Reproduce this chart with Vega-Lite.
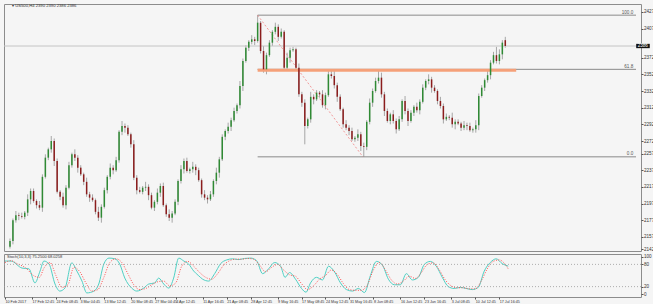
{
"$schema":"https://vega.github.io/schema/vega-lite/v6.json",
"background":"#f5f5f5",
"padding":{"left":2,"top":3,"right":0,"bottom":0},
"spacing":3,
"bounds":"flush",
"config":{"font":"Liberation Sans","view":{"stroke":"#8c8c8c","strokeWidth":1},"axis":{"labelFont":"Liberation Sans","labelFontSize":4.6,"labelColor":"#333","tickColor":"#555","tickSize":2,"labelPadding":0.5,"grid":false,"domain":false,"labelOverlap":false,"labelBound":false,"labelFlush":false}},
"datasets":{
"candles":[
{"i":0,"o":2145,"h":2155,"l":2143,"c":2152},{"i":1,"o":2152,"h":2179,"l":2148,"c":2177},{"i":2,"o":2177,"h":2188,"l":2174,"c":2183},{"i":3,"o":2183,"h":2186,"l":2177,"c":2182},{"i":4,"o":2182,"h":2186,"l":2179,"c":2181},{"i":5,"o":2181,"h":2188,"l":2178,"c":2186},{"i":6,"o":2186,"h":2208,"l":2182,"c":2202},{"i":7,"o":2202,"h":2215,"l":2196,"c":2212},{"i":8,"o":2212,"h":2215,"l":2198,"c":2200},{"i":9,"o":2200,"h":2202,"l":2191,"c":2195},
{"i":10,"o":2195,"h":2200,"l":2189,"c":2192},{"i":11,"o":2192,"h":2232,"l":2187,"c":2229},{"i":12,"o":2229,"h":2256,"l":2227,"c":2252},{"i":13,"o":2252,"h":2264,"l":2249,"c":2262},{"i":14,"o":2262,"h":2278,"l":2258,"c":2272},{"i":15,"o":2272,"h":2275,"l":2242,"c":2248},{"i":16,"o":2248,"h":2251,"l":2209,"c":2211},{"i":17,"o":2211,"h":2213,"l":2201,"c":2205},{"i":18,"o":2205,"h":2210,"l":2192,"c":2195},{"i":19,"o":2195,"h":2219,"l":2190,"c":2216},
{"i":20,"o":2216,"h":2247,"l":2214,"c":2243},{"i":21,"o":2243,"h":2258,"l":2240,"c":2256},{"i":22,"o":2256,"h":2262,"l":2248,"c":2252},{"i":23,"o":2252,"h":2255,"l":2234,"c":2240},{"i":24,"o":2240,"h":2243,"l":2230,"c":2232},{"i":25,"o":2232,"h":2234,"l":2219,"c":2223},{"i":26,"o":2223,"h":2228,"l":2205,"c":2208},{"i":27,"o":2208,"h":2211,"l":2199,"c":2204},{"i":28,"o":2204,"h":2208,"l":2199,"c":2201},{"i":29,"o":2201,"h":2203,"l":2184,"c":2187},
{"i":30,"o":2187,"h":2193,"l":2176,"c":2180},{"i":31,"o":2180,"h":2196,"l":2174,"c":2193},{"i":32,"o":2193,"h":2216,"l":2191,"c":2213},{"i":33,"o":2213,"h":2231,"l":2209,"c":2229},{"i":34,"o":2229,"h":2245,"l":2226,"c":2240},{"i":35,"o":2240,"h":2243,"l":2232,"c":2237},{"i":36,"o":2237,"h":2253,"l":2235,"c":2249},{"i":37,"o":2249,"h":2285,"l":2246,"c":2283},{"i":38,"o":2283,"h":2296,"l":2279,"c":2290},{"i":39,"o":2290,"h":2293,"l":2282,"c":2288},
{"i":40,"o":2288,"h":2291,"l":2278,"c":2280},{"i":41,"o":2280,"h":2282,"l":2264,"c":2268},{"i":42,"o":2268,"h":2273,"l":2225,"c":2228},{"i":43,"o":2228,"h":2231,"l":2208,"c":2213},{"i":44,"o":2213,"h":2217,"l":2209,"c":2211},{"i":45,"o":2211,"h":2218,"l":2208,"c":2216},{"i":46,"o":2216,"h":2223,"l":2212,"c":2217},{"i":47,"o":2217,"h":2220,"l":2201,"c":2207},{"i":48,"o":2207,"h":2210,"l":2190,"c":2192},{"i":49,"o":2192,"h":2201,"l":2188,"c":2199},
{"i":50,"o":2199,"h":2215,"l":2196,"c":2210},{"i":51,"o":2210,"h":2221,"l":2205,"c":2218},{"i":52,"o":2218,"h":2222,"l":2193,"c":2195},{"i":53,"o":2195,"h":2197,"l":2181,"c":2184},{"i":54,"o":2184,"h":2190,"l":2176,"c":2180},{"i":55,"o":2180,"h":2188,"l":2174,"c":2185},{"i":56,"o":2185,"h":2202,"l":2183,"c":2199},{"i":57,"o":2199,"h":2226,"l":2195,"c":2224},{"i":58,"o":2224,"h":2243,"l":2221,"c":2238},{"i":59,"o":2238,"h":2251,"l":2233,"c":2248},
{"i":60,"o":2248,"h":2252,"l":2234,"c":2236},{"i":61,"o":2236,"h":2240,"l":2233,"c":2238},{"i":62,"o":2238,"h":2247,"l":2234,"c":2241},{"i":63,"o":2241,"h":2244,"l":2231,"c":2237},{"i":64,"o":2237,"h":2240,"l":2223,"c":2225},{"i":65,"o":2225,"h":2227,"l":2204,"c":2208},{"i":66,"o":2208,"h":2213,"l":2201,"c":2204},{"i":67,"o":2204,"h":2207,"l":2197,"c":2202},{"i":68,"o":2202,"h":2212,"l":2200,"c":2208},{"i":69,"o":2208,"h":2226,"l":2205,"c":2224},
{"i":70,"o":2224,"h":2240,"l":2220,"c":2234},{"i":71,"o":2234,"h":2253,"l":2228,"c":2250},{"i":72,"o":2250,"h":2280,"l":2248,"c":2277},{"i":73,"o":2277,"h":2286,"l":2273,"c":2284},{"i":74,"o":2284,"h":2294,"l":2281,"c":2289},{"i":75,"o":2289,"h":2300,"l":2284,"c":2297},{"i":76,"o":2297,"h":2312,"l":2295,"c":2308},{"i":77,"o":2308,"h":2317,"l":2305,"c":2315},{"i":78,"o":2315,"h":2344,"l":2311,"c":2338},{"i":79,"o":2338,"h":2371,"l":2332,"c":2368},
{"i":80,"o":2368,"h":2387,"l":2366,"c":2384},{"i":81,"o":2384,"h":2393,"l":2380,"c":2391},{"i":82,"o":2391,"h":2399,"l":2388,"c":2394},{"i":83,"o":2394,"h":2397,"l":2387,"c":2392},{"i":84,"o":2392,"h":2423,"l":2390,"c":2414},{"i":85,"o":2414,"h":2416,"l":2377,"c":2380},{"i":86,"o":2380,"h":2386,"l":2354,"c":2358},{"i":87,"o":2358,"h":2378,"l":2352,"c":2375},{"i":88,"o":2375,"h":2393,"l":2373,"c":2390},{"i":89,"o":2390,"h":2405,"l":2386,"c":2403},
{"i":90,"o":2403,"h":2414,"l":2400,"c":2409},{"i":91,"o":2409,"h":2412,"l":2392,"c":2397},{"i":92,"o":2397,"h":2407,"l":2395,"c":2403},{"i":93,"o":2403,"h":2405,"l":2357,"c":2360},{"i":94,"o":2360,"h":2378,"l":2356,"c":2372},{"i":95,"o":2372,"h":2384,"l":2366,"c":2381},{"i":96,"o":2381,"h":2385,"l":2379,"c":2382},{"i":97,"o":2382,"h":2384,"l":2356,"c":2360},{"i":98,"o":2360,"h":2365,"l":2325,"c":2328},{"i":99,"o":2328,"h":2331,"l":2313,"c":2318},
{"i":100,"o":2318,"h":2322,"l":2268,"c":2290},{"i":101,"o":2290,"h":2300,"l":2287,"c":2298},{"i":102,"o":2298,"h":2331,"l":2294,"c":2325},{"i":103,"o":2325,"h":2328,"l":2316,"c":2322},{"i":104,"o":2322,"h":2333,"l":2320,"c":2330},{"i":105,"o":2330,"h":2332,"l":2324,"c":2328},{"i":106,"o":2328,"h":2333,"l":2312,"c":2315},{"i":107,"o":2315,"h":2330,"l":2310,"c":2327},{"i":108,"o":2327,"h":2356,"l":2325,"c":2352},{"i":109,"o":2352,"h":2358,"l":2347,"c":2350},
{"i":110,"o":2350,"h":2356,"l":2335,"c":2339},{"i":111,"o":2339,"h":2342,"l":2319,"c":2325},{"i":112,"o":2325,"h":2328,"l":2308,"c":2310},{"i":113,"o":2310,"h":2312,"l":2288,"c":2292},{"i":114,"o":2292,"h":2297,"l":2285,"c":2288},{"i":115,"o":2288,"h":2291,"l":2279,"c":2284},{"i":116,"o":2284,"h":2288,"l":2272,"c":2274},{"i":117,"o":2274,"h":2278,"l":2271,"c":2276},{"i":118,"o":2276,"h":2286,"l":2272,"c":2280},{"i":119,"o":2280,"h":2283,"l":2260,"c":2266},
{"i":120,"o":2266,"h":2270,"l":2253,"c":2265},{"i":121,"o":2265,"h":2297,"l":2261,"c":2295},{"i":122,"o":2295,"h":2323,"l":2292,"c":2318},{"i":123,"o":2318,"h":2335,"l":2313,"c":2332},{"i":124,"o":2332,"h":2348,"l":2330,"c":2344},{"i":125,"o":2344,"h":2356,"l":2341,"c":2348},{"i":126,"o":2348,"h":2354,"l":2324,"c":2328},{"i":127,"o":2328,"h":2331,"l":2302,"c":2308},{"i":128,"o":2308,"h":2311,"l":2294,"c":2296},{"i":129,"o":2296,"h":2306,"l":2292,"c":2304},
{"i":130,"o":2304,"h":2309,"l":2293,"c":2296},{"i":131,"o":2296,"h":2299,"l":2281,"c":2286},{"i":132,"o":2286,"h":2302,"l":2284,"c":2298},{"i":133,"o":2298,"h":2322,"l":2295,"c":2320},{"i":134,"o":2320,"h":2326,"l":2304,"c":2308},{"i":135,"o":2308,"h":2311,"l":2290,"c":2296},{"i":136,"o":2296,"h":2309,"l":2294,"c":2306},{"i":137,"o":2306,"h":2315,"l":2302,"c":2313},{"i":138,"o":2313,"h":2318,"l":2306,"c":2309},{"i":139,"o":2309,"h":2322,"l":2304,"c":2319},
{"i":140,"o":2319,"h":2340,"l":2317,"c":2336},{"i":141,"o":2336,"h":2346,"l":2333,"c":2344},{"i":142,"o":2344,"h":2352,"l":2340,"c":2346},{"i":143,"o":2346,"h":2349,"l":2330,"c":2336},{"i":144,"o":2336,"h":2339,"l":2330,"c":2332},{"i":145,"o":2332,"h":2334,"l":2316,"c":2320},{"i":146,"o":2320,"h":2325,"l":2311,"c":2314},{"i":147,"o":2314,"h":2317,"l":2293,"c":2298},{"i":148,"o":2298,"h":2305,"l":2296,"c":2301},{"i":149,"o":2301,"h":2303,"l":2297,"c":2300},
{"i":150,"o":2300,"h":2306,"l":2288,"c":2292},{"i":151,"o":2292,"h":2298,"l":2286,"c":2295},{"i":152,"o":2295,"h":2298,"l":2291,"c":2293},{"i":153,"o":2293,"h":2295,"l":2284,"c":2288},{"i":154,"o":2288,"h":2296,"l":2285,"c":2291},{"i":155,"o":2291,"h":2294,"l":2285,"c":2290},{"i":156,"o":2290,"h":2294,"l":2283,"c":2285},{"i":157,"o":2285,"h":2288,"l":2282,"c":2286},{"i":158,"o":2286,"h":2297,"l":2282,"c":2291},{"i":159,"o":2291,"h":2329,"l":2285,"c":2326},
{"i":160,"o":2326,"h":2339,"l":2324,"c":2336},{"i":161,"o":2336,"h":2347,"l":2332,"c":2345},{"i":162,"o":2345,"h":2356,"l":2342,"c":2351},{"i":163,"o":2351,"h":2369,"l":2346,"c":2366},{"i":164,"o":2366,"h":2379,"l":2364,"c":2375},{"i":165,"o":2375,"h":2385,"l":2365,"c":2368},{"i":166,"o":2368,"h":2382,"l":2364,"c":2376},{"i":167,"o":2376,"h":2393,"l":2370,"c":2390},{"i":168,"o":2393,"h":2397,"l":2384,"c":2386}
],
"fib":[{"from":84,"to":212.333,"p":2423,"lab":"100.0"},{"from":84,"to":212.333,"p":2358,"lab":"61.8"},{"from":84,"to":212.333,"p":2253,"lab":"0.0"}],
"zone":[{"from":84,"to":171.7,"p":2357}],
"trend":[{"from":84,"to":119.7,"p1":2423,"p2":2253}],
"head":[{"i":0.7,"p":2434,"t":"▾ US500,H4  2390 2390 2386 2386"}],
"stoch":[
{"i":0,"v":89,"s":"main"},{"i":2,"v":89,"s":"main"},{"i":5.7,"v":70,"s":"main"},{"i":8,"v":68,"s":"main"},{"i":10,"v":30,"s":"main"},{"i":11.7,"v":62,"s":"main"},{"i":13,"v":89,"s":"main"},{"i":14.7,"v":81,"s":"main"},{"i":16.7,"v":27,"s":"main"},{"i":18.3,"v":8,"s":"main"},{"i":20,"v":16,"s":"main"},{"i":22.3,"v":84,"s":"main"},{"i":24,"v":62,"s":"main"},{"i":25.7,"v":35,"s":"main"},{"i":27.3,"v":3,"s":"main"},{"i":29.7,"v":8,"s":"main"},{"i":31.3,"v":27,"s":"main"},{"i":33,"v":81,"s":"main"},{"i":34.7,"v":97,"s":"main"},{"i":36.7,"v":95,"s":"main"},{"i":38.3,"v":81,"s":"main"},{"i":40,"v":43,"s":"main"},{"i":42.3,"v":16,"s":"main"},{"i":44,"v":8,"s":"main"},{"i":46.3,"v":16,"s":"main"},{"i":48,"v":27,"s":"main"},{"i":50,"v":30,"s":"main"},{"i":51.3,"v":43,"s":"main"},{"i":53,"v":27,"s":"main"},{"i":54.7,"v":16,"s":"main"},{"i":56.3,"v":43,"s":"main"},{"i":58,"v":97,"s":"main"},{"i":59.7,"v":89,"s":"main"},{"i":61.3,"v":81,"s":"main"},{"i":63,"v":62,"s":"main"},{"i":64.7,"v":49,"s":"main"},{"i":66,"v":40,"s":"main"},{"i":68,"v":35,"s":"main"},{"i":70,"v":55,"s":"main"},{"i":72,"v":82,"s":"main"},{"i":74,"v":92,"s":"main"},{"i":76,"v":95,"s":"main"},{"i":78,"v":93,"s":"main"},{"i":80,"v":96,"s":"main"},{"i":82,"v":97,"s":"main"},{"i":84,"v":90,"s":"main"},{"i":86,"v":55,"s":"main"},{"i":88,"v":68,"s":"main"},{"i":90,"v":85,"s":"main"},{"i":92,"v":75,"s":"main"},{"i":93.5,"v":45,"s":"main"},{"i":95,"v":58,"s":"main"},{"i":97,"v":40,"s":"main"},{"i":99,"v":15,"s":"main"},{"i":100.5,"v":5,"s":"main"},{"i":102,"v":30,"s":"main"},{"i":104,"v":45,"s":"main"},{"i":106,"v":38,"s":"main"},{"i":108,"v":75,"s":"main"},{"i":110,"v":60,"s":"main"},{"i":112,"v":30,"s":"main"},{"i":114,"v":12,"s":"main"},{"i":116,"v":8,"s":"main"},{"i":118,"v":15,"s":"main"},{"i":120,"v":4,"s":"main"},{"i":122,"v":50,"s":"main"},{"i":124,"v":88,"s":"main"},{"i":126,"v":78,"s":"main"},{"i":128,"v":40,"s":"main"},{"i":130,"v":25,"s":"main"},{"i":132,"v":25,"s":"main"},{"i":134,"v":55,"s":"main"},{"i":136,"v":38,"s":"main"},{"i":138,"v":45,"s":"main"},{"i":140,"v":80,"s":"main"},{"i":142,"v":88,"s":"main"},{"i":144,"v":75,"s":"main"},{"i":146,"v":45,"s":"main"},{"i":148,"v":20,"s":"main"},{"i":150,"v":15,"s":"main"},{"i":152,"v":18,"s":"main"},{"i":154,"v":15,"s":"main"},{"i":156,"v":12,"s":"main"},{"i":158,"v":18,"s":"main"},{"i":160,"v":62,"s":"main"},{"i":162,"v":85,"s":"main"},{"i":164,"v":95,"s":"main"},{"i":166,"v":82,"s":"main"},{"i":168,"v":75.25,"s":"main"},
{"i":0,"v":85,"s":"signal"},{"i":2,"v":90,"s":"signal"},{"i":4,"v":82,"s":"signal"},{"i":7,"v":70,"s":"signal"},{"i":9.5,"v":50,"s":"signal"},{"i":11.5,"v":45,"s":"signal"},{"i":13,"v":70,"s":"signal"},{"i":15,"v":85,"s":"signal"},{"i":17,"v":50,"s":"signal"},{"i":19,"v":18,"s":"signal"},{"i":21,"v":25,"s":"signal"},{"i":23,"v":72,"s":"signal"},{"i":25,"v":60,"s":"signal"},{"i":27,"v":30,"s":"signal"},{"i":29,"v":8,"s":"signal"},{"i":31,"v":12,"s":"signal"},{"i":33,"v":45,"s":"signal"},{"i":35,"v":85,"s":"signal"},{"i":37,"v":95,"s":"signal"},{"i":39,"v":85,"s":"signal"},{"i":41,"v":55,"s":"signal"},{"i":43,"v":25,"s":"signal"},{"i":45,"v":12,"s":"signal"},{"i":47,"v":15,"s":"signal"},{"i":49,"v":25,"s":"signal"},{"i":51,"v":33,"s":"signal"},{"i":53,"v":35,"s":"signal"},{"i":55,"v":22,"s":"signal"},{"i":57,"v":30,"s":"signal"},{"i":59,"v":75,"s":"signal"},{"i":61,"v":88,"s":"signal"},{"i":63,"v":75,"s":"signal"},{"i":65,"v":58,"s":"signal"},{"i":67,"v":45,"s":"signal"},{"i":69,"v":40,"s":"signal"},{"i":71,"v":55,"s":"signal"},{"i":73,"v":78,"s":"signal"},{"i":75,"v":90,"s":"signal"},{"i":77,"v":94,"s":"signal"},{"i":79,"v":94,"s":"signal"},{"i":81,"v":96,"s":"signal"},{"i":83,"v":94,"s":"signal"},{"i":85,"v":78,"s":"signal"},{"i":87,"v":60,"s":"signal"},{"i":89,"v":72,"s":"signal"},{"i":91,"v":80,"s":"signal"},{"i":93,"v":65,"s":"signal"},{"i":95,"v":52,"s":"signal"},{"i":97,"v":48,"s":"signal"},{"i":99,"v":28,"s":"signal"},{"i":101,"v":12,"s":"signal"},{"i":103,"v":22,"s":"signal"},{"i":105,"v":40,"s":"signal"},{"i":107,"v":50,"s":"signal"},{"i":109,"v":65,"s":"signal"},{"i":111,"v":52,"s":"signal"},{"i":113,"v":28,"s":"signal"},{"i":115,"v":12,"s":"signal"},{"i":117,"v":10,"s":"signal"},{"i":119,"v":10,"s":"signal"},{"i":121,"v":25,"s":"signal"},{"i":123,"v":65,"s":"signal"},{"i":125,"v":85,"s":"signal"},{"i":127,"v":65,"s":"signal"},{"i":129,"v":38,"s":"signal"},{"i":131,"v":27,"s":"signal"},{"i":133,"v":35,"s":"signal"},{"i":135,"v":48,"s":"signal"},{"i":137,"v":42,"s":"signal"},{"i":139,"v":58,"s":"signal"},{"i":141,"v":80,"s":"signal"},{"i":143,"v":84,"s":"signal"},{"i":145,"v":65,"s":"signal"},{"i":147,"v":38,"s":"signal"},{"i":149,"v":22,"s":"signal"},{"i":151,"v":17,"s":"signal"},{"i":153,"v":17,"s":"signal"},{"i":155,"v":14,"s":"signal"},{"i":157,"v":14,"s":"signal"},{"i":159,"v":35,"s":"signal"},{"i":161,"v":68,"s":"signal"},{"i":163,"v":88,"s":"signal"},{"i":165,"v":92,"s":"signal"},{"i":167,"v":80,"s":"signal"},{"i":168,"v":68.03,"s":"signal"}
],
"stochhead":[{"i":0.7,"v":101,"t":"Stoch(10,3,3) 75.2500 68.0258"}]
},
"vconcat":[
{
"width":637,"height":247,
"resolve":{"axis":{"x":"independent","y":"independent"}},
"layer":[
{"data":{"name":"candles"},"mark":{"type":"rule","color":"#a6a6a6","strokeWidth":1},
"encoding":{
"x":{"field":"i","type":"quantitative","scale":{"domain":[-0.333,212.333],"nice":false,"zero":false},"axis":null},
"y":{"field":"l","type":"quantitative","title":null,"scale":{"domain":[2140,2436.4],"nice":false,"zero":false},
"axis":{"orient":"right","values":[2427,2407,2372,2352,2332,2312,2292,2272,2257,2237,2217,2197,2177,2157,2142],"format":"d","labelOverlap":false,"labelFontSize":4.6,"tickSize":2,"labelPadding":0.5,"title":null}},
"y2":{"field":"h"}}},
{"data":{"name":"fib"},"mark":{"type":"rule","color":"#8a8a8a","strokeWidth":1},
"encoding":{"x":{"field":"from","type":"quantitative","axis":null},"x2":{"field":"to"},"y":{"field":"p","type":"quantitative","axis":null}}},
{"data":{"values":[{}]},"mark":{"type":"rule","color":"#c4c4c4","strokeWidth":1},
"encoding":{"y":{"datum":2386,"type":"quantitative","axis":null}}},
{"data":{"name":"zone"},"mark":{"type":"rule","color":"#f5a079","strokeWidth":3},
"encoding":{"x":{"field":"from","type":"quantitative","axis":null},"x2":{"field":"to"},"y":{"field":"p","type":"quantitative","axis":null}}},
{"data":{"name":"trend"},"mark":{"type":"rule","color":"#f08080","strokeWidth":0.8,"strokeDash":[2,2]},
"encoding":{"x":{"field":"from","type":"quantitative","axis":null},"x2":{"field":"to"},"y":{"field":"p1","type":"quantitative","axis":null},"y2":{"field":"p2"}}},
{"data":{"name":"candles"},"mark":{"type":"bar","width":1.5},
"encoding":{
"x":{"field":"i","type":"quantitative","axis":null},
"y":{"field":"o","type":"quantitative","axis":null},"y2":{"field":"c"},
"color":{"condition":{"test":"datum.c >= datum.o","value":"#2f8a34"},"value":"#8b1d1d"}}},
{"data":{"name":"fib"},"mark":{"type":"text","align":"right","baseline":"bottom","fontSize":4.6,"color":"#555","dy":-0.5},
"encoding":{"x":{"datum":211.4,"type":"quantitative","axis":null},"y":{"field":"p","type":"quantitative","axis":null},"text":{"field":"lab"}}},
{"data":{"name":"head"},"mark":{"type":"text","align":"left","baseline":"middle","fontSize":4.2,"color":"#333"},
"encoding":{"x":{"field":"i","type":"quantitative","axis":null},"y":{"field":"p","type":"quantitative","axis":null},"text":{"field":"t"}}},
{"data":{"values":[{}]},"mark":{"type":"rect","color":"#111"},
"encoding":{"x":{"datum":212.4,"type":"quantitative","axis":null},"x2":{"datum":217},"y":{"datum":2383.4,"type":"quantitative","axis":null},"y2":{"datum":2388.6}}},
{"data":{"values":[{"t":"2386"}]},"mark":{"type":"text","align":"left","baseline":"middle","fontSize":4.6,"color":"#fff"},
"encoding":{"x":{"datum":212.9,"type":"quantitative","axis":null},"y":{"datum":2386,"type":"quantitative","axis":null},"text":{"field":"t"}}}
]
},
{
"width":637,"height":43,
"resolve":{"axis":{"x":"independent","y":"independent"}},
"layer":[
{"data":{"name":"stoch"},"mark":{"type":"line","strokeWidth":1,"interpolate":"monotone"},
"transform":[{"filter":"datum.s == 'main'"}],
"encoding":{
"x":{"field":"i","type":"quantitative","title":null,"scale":{"domain":[-0.333,212.333],"nice":false,"zero":false},
"axis":{"orient":"bottom","values":[0,9,17,25,33,42,50,57,66,74,82,91,99,107,115,123,132,140,149,157,165],
"labelExpr":"['10 Feb 2017','17 Feb 12:45','24 Feb 08:45','3 Mar 04:45','13 Mar 12:45','20 Mar 08:45','27 Mar 04:45','4 Apr 12:45','11 Apr 16:45','21 Apr 08:45','28 Apr 12:45','9 May 16:45','17 May 08:45','24 May 12:45','31 May 16:45','8 Jun 08:45','16 Jun 12:45','23 Jun 16:45','3 Jul 08:45','10 Jul 12:45','17 Jul 16:45'][indexof([0,9,17,25,33,42,50,57,66,74,82,91,99,107,115,123,132,140,149,157,165], datum.value)]",
"labelAlign":"left","labelFontSize":3.7,"tickSize":2,"labelPadding":0.5,"labelOverlap":false,"labelFlush":false,"title":null}},
"y":{"field":"v","type":"quantitative","title":null,"scale":{"domain":[-8,108],"nice":false,"zero":false},
"axis":{"orient":"right","values":[100,80,20,0],"labelOverlap":false,"labelFontSize":4.6,"tickSize":2,"labelPadding":0.5,"title":null}},
"color":{"value":"#4fd0c4"}}},
{"data":{"name":"stoch"},"mark":{"type":"line","strokeWidth":1,"strokeDash":[1,1.5],"interpolate":"monotone"},
"transform":[{"filter":"datum.s == 'signal'"}],
"encoding":{"x":{"field":"i","type":"quantitative","axis":null},"y":{"field":"v","type":"quantitative","axis":null},"color":{"value":"#ff5050"}}},
{"data":{"values":[{"lv":80},{"lv":20}]},"mark":{"type":"rule","color":"#9a9a9a","strokeWidth":0.8,"strokeDash":[1,2]},
"encoding":{"y":{"field":"lv","type":"quantitative","axis":null}}},
{"data":{"name":"stochhead"},"mark":{"type":"text","align":"left","baseline":"middle","fontSize":4,"color":"#333"},
"encoding":{"x":{"field":"i","type":"quantitative","axis":null},"y":{"field":"v","type":"quantitative","axis":null},"text":{"field":"t"}}}
]
}
]
}
